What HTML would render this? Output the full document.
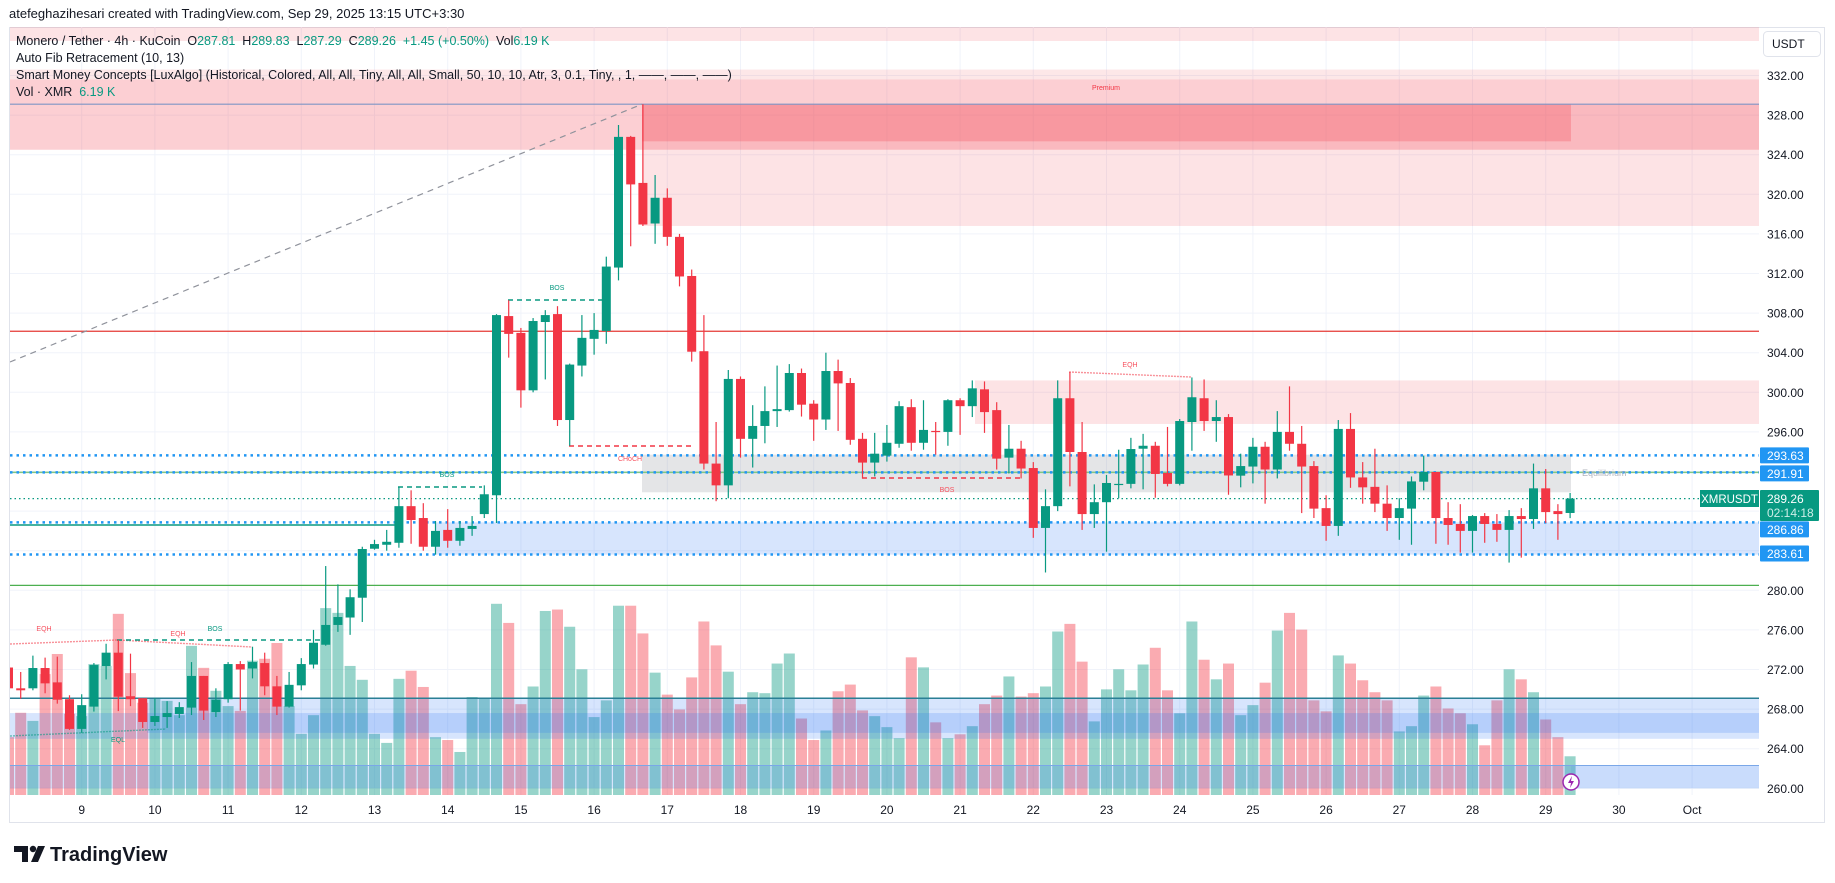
<!DOCTYPE html>
<html><head><meta charset="utf-8">
<style>
html,body{margin:0;padding:0;background:#fff;}
body{width:1835px;height:883px;overflow:hidden;position:relative;font-family:"Liberation Sans",sans-serif;color:#131722;}
#hdr{position:absolute;left:9px;top:6px;font-size:13px;color:#131722;}
.leg{position:absolute;left:16px;font-size:12.5px;color:#131722;white-space:nowrap;}
.v{color:#089981;}
#logo{position:absolute;left:12px;top:840px;}
</style></head><body>
<div id="hdr">atefeghazihesari created with TradingView.com, Sep 29, 2025 13:15 UTC+3:30</div>
<svg id="chart" width="1835" height="883" style="position:absolute;left:0;top:0"></svg>
<div class="leg" style="top:34px">Monero / Tether · 4h · KuCoin&nbsp; O<span class="v">287.81</span>&nbsp; H<span class="v">289.83</span>&nbsp; L<span class="v">287.29</span>&nbsp; C<span class="v">289.26</span>&nbsp; <span class="v">+1.45 (+0.50%)</span>&nbsp; Vol<span class="v">6.19 K</span></div>
<div class="leg" style="top:51px">Auto Fib Retracement (10, 13)</div>
<div class="leg" style="top:68px">Smart Money Concepts [LuxAlgo] (Historical, Colored, All, All, Tiny, All, All, Small, 50, 10, 10, Atr, 3, 0.1, Tiny, , 1, ——, ——, ——)</div>
<div class="leg" style="top:85px">Vol · XMR&nbsp; <span class="v">6.19 K</span></div>
<div id="logo">
<svg width="170" height="28"><path d="M2 6h14v16h-6V12H2z" fill="#131722"/><circle cx="21" cy="9" r="3.2" fill="#131722"/><path d="M26 6h7l-7 16h-7z" fill="#131722"/><text x="38" y="21" font-family="Liberation Sans, sans-serif" font-weight="bold" font-size="20" fill="#131722">TradingView</text></svg>
</div>
<script>
const openP=[272.2,270.1,270.1,272.15,270.7,269.0,266.0,268.25,272.35,273.7,269.3,269.1,266.7,267.2,267.5,268.15,271.35,267.7,269.0,272.55,272.1,272.65,270.3,268.25,270.4,272.5,274.5,276.5,277.25,279.25,284.2,284.6,284.8,288.5,287.3,284.4,286.1,285.0,286.2,287.7,289.6,307.7,306.0,300.2,307.1,307.9,297.2,302.7,305.4,306.2,312.6,325.8,321.15,317.05,319.65,315.7,311.75,304.15,292.8,290.6,301.35,295.3,296.6,298.1,298.2,301.95,298.85,297.25,302.15,300.94,295.3,292.9,293.6,294.8,298.5,294.9,296.1,296.0,299.2,298.6,300.3,298.2,293.4,294.3,292.35,286.3,288.5,299.4,293.97,287.7,288.9,290.7,290.75,294.3,294.6,291.85,290.75,297.0,299.4,297.1,297.5,291.58,292.5,294.5,292.2,296.0,294.8,292.55,288.3,286.5,296.3,291.4,290.45,288.75,287.3,288.25,290.97,291.95,287.3,286.7,286.0,287.5,286.7,286.1,287.5,287.2,290.3,288.0,287.81];
const highP=[272.5,271.75,273.4,273.2,273.3,269.4,269.5,272.65,274.6,275.0,273.6,269.1,269.1,268.8,268.7,272.75,271.35,270.1,272.75,272.85,274.3,273.7,271.35,271.75,273.15,276.0,282.45,280.6,280.1,284.4,285.1,286.1,290.4,290.1,288.8,287.0,288.2,287.0,287.5,290.6,307.9,309.3,306.5,307.5,308.3,308.7,302.9,307.8,308.0,313.7,327.0,325.9,329.1,321.95,320.6,316.0,312.4,307.8,297.0,302.25,301.6,298.7,300.6,302.7,302.85,302.4,299.2,304.0,303.3,301.44,295.9,295.9,296.7,299.1,299.3,299.2,297.0,299.3,299.4,301.2,301.1,299.0,296.7,295.1,292.95,290.2,301.2,302.05,297.0,290.7,291.65,294.2,295.4,295.8,295.0,296.5,297.3,301.5,301.3,299.2,297.8,293.8,295.4,295.0,298.1,300.6,296.6,293.05,289.6,297.2,297.9,292.95,294.3,290.6,289.3,291.5,293.6,291.95,288.9,288.7,287.6,287.8,287.7,288.1,288.3,292.8,292.25,288.7,289.83];
const lowP=[269.8,269.05,269.9,269.6,268.55,265.9,265.6,267.75,271.0,267.8,268.3,266.1,266.3,266.1,267.1,267.4,266.9,267.2,268.65,267.85,271.1,269.4,267.4,268.15,269.9,272.1,274.4,275.8,275.5,276.8,284.1,284.0,284.3,284.7,284.0,283.6,284.3,284.5,285.5,287.3,286.8,303.5,298.45,300.0,301.3,296.6,294.6,301.6,303.8,304.9,311.3,314.75,316.8,315.0,314.8,310.7,303.1,292.2,289.0,289.3,293.4,292.4,294.85,296.5,298.05,297.55,295.1,296.2,296.1,294.7,291.3,291.5,293.0,294.4,294.1,294.2,293.7,294.6,295.7,297.5,295.9,292.2,291.8,291.3,285.3,281.8,288.0,290.5,286.1,286.3,283.9,289.3,290.3,290.2,289.35,290.5,290.6,294.1,296.1,295.0,289.65,290.4,290.8,288.75,291.3,294.1,287.8,287.3,285.0,285.5,290.35,288.75,287.9,286.0,285.1,284.6,290.1,284.7,284.6,283.8,283.8,284.8,284.9,282.8,283.3,286.2,286.8,285.1,287.29];
const closeP=[270.1,269.9,272.15,270.6,268.95,266.0,268.4,272.45,273.7,269.25,269.0,266.7,267.3,267.6,268.2,271.35,267.85,268.95,272.55,272.0,272.75,270.3,268.25,270.45,272.55,274.7,276.5,277.3,279.3,284.17,284.67,284.9,288.5,287.1,284.4,286.0,285.0,286.3,286.5,289.7,307.8,305.9,300.2,307.2,307.8,297.2,302.8,305.5,306.3,312.7,325.8,321.0,316.95,319.65,315.7,311.7,304.1,292.8,290.6,301.35,295.3,296.6,298.1,298.3,301.95,298.75,297.25,302.15,300.9,295.2,292.9,293.8,294.9,298.6,294.9,296.2,296.0,299.2,298.6,300.4,298.0,293.3,294.3,292.3,286.3,288.5,299.4,293.97,287.7,288.9,290.84,290.75,294.27,294.6,291.75,290.75,297.1,299.5,297.1,297.5,291.6,292.55,294.5,292.2,296.0,294.8,292.5,288.25,286.5,296.3,291.4,290.4,288.75,287.3,288.3,291.0,291.95,287.3,286.6,286.0,287.5,286.7,286.1,287.5,287.2,290.3,287.9,287.7,289.26];
const volumeK=[12.1,17.2,15.5,25.3,29.5,17.0,16.5,27.4,27.0,37.9,25.5,19.3,20.1,19.7,16.7,31.2,26.6,21.8,18.6,17.6,28.1,28.5,31.8,18.6,12.8,16.7,39.1,38.1,27.0,24.1,12.8,10.9,24.3,26.0,22.6,12.1,11.5,9.0,20.5,20.3,40.0,36.0,19.0,22.7,38.5,38.8,35.2,26.3,16.3,19.8,39.6,39.6,33.8,25.6,21.0,17.9,24.6,36.3,31.3,25.8,19.0,21.5,21.3,27.5,29.6,16.0,11.5,13.5,21.7,23.1,17.7,16.5,14.2,11.9,28.8,26.7,15.2,11.9,12.7,14.4,19.0,20.8,24.8,20.6,21.3,22.7,34.2,35.8,27.9,15.4,22.1,26.3,21.9,27.3,30.8,21.9,17.1,36.3,28.3,24.2,27.5,16.7,18.8,23.5,34.4,38.1,34.6,19.8,17.5,29.2,27.5,24.0,21.5,19.8,13.3,14.4,20.8,22.7,18.1,17.1,14.8,10.4,19.8,26.3,24.2,21.5,15.8,12.1,8.1];
const priceTicks=[332,328,324,320,316,312,308,304,300,296,280,276,272,268,264,260];
const gridPrices=[332,328,324,320,316,312,308,304,300,296,292,288,284,280,276,272,268,264,260];
const dayLabels=["9","10","11","12","13","14","15","16","17","18","19","20","21","22","23","24","25","26","27","28","29","30","Oct"];
const levelPrices=[293.63,291.91,286.86,283.61];
const lastPrice=289.26;

const NS="http://www.w3.org/2000/svg";
const svg=document.getElementById('chart');
const L=10,R=1759,T=27,B=795;
function yP(p){return 75.5+(332-p)*9.9;}
function xI(i){return 8.5+12.2*i;}
function yV(v){return B-v*4.78;}
function mk(tag,attrs,parent){const e=document.createElementNS(NS,tag);for(const k in attrs)e.setAttribute(k,attrs[k]);(parent||svg).appendChild(e);return e;}

let e=mk('rect',{x:9.5,y:27.5,width:1815,height:795,fill:'none',stroke:'#e0e3eb'});


const defs=mk('defs',{});
const cp=mk('clipPath',{id:'pc'},defs);mk('rect',{x:L,y:T,width:R-L,height:B-T},cp);
const g=mk('g',{'clip-path':'url(#pc)'});



gridPrices.forEach(p=>{const l=mk('line',{x1:L,x2:R,y1:yP(p),y2:yP(p),stroke:'#f0f3fa','stroke-width':1},g);

});
dayLabels.forEach((d,k)=>{const x=xI(6+k*6);const l=mk('line',{x1:x,x2:x,y1:T,y2:B,stroke:'#f0f3fa','stroke-width':1},g);

});

volumeK.forEach((v,i)=>{const up=closeP[i]>=openP[i];
const r=mk('rect',{x:xI(i)-5.5,y:yV(v),width:11,height:B-yV(v),fill:up?'rgba(8,153,129,0.42)':'rgba(242,54,69,0.42)'},g);

});

function box(x1,p1,x2,p2,fill,name){const r=mk('rect',{x:x1,y:Math.min(yP(p1),yP(p2)),width:x2-x1,height:Math.abs(yP(p1)-yP(p2)),fill:fill},g);

return r;}
mk('rect',{x:L,y:27,width:R-L,height:14,fill:'rgba(242,54,69,0.14)'},g);
box(L,332.6,R,331.6,'rgba(242,54,69,0.12)','premium-edge');
box(L,331.6,R,324.5,'rgba(242,54,69,0.24)','premium-zone');
box(642,329.1,R,316.8,'rgba(242,54,69,0.14)','bearish-order-block');
box(642,329.1,1571,325.35,'rgba(242,54,69,0.25)','bearish-order-block-inner');
box(975,301.2,R,296.8,'rgba(242,54,69,0.14)','supply-zone');
box(642,293.7,1571,289.9,'rgba(120,123,134,0.20)','equilibrium-zone');
box(435,286.86,R,283.61,'rgba(33,110,243,0.18)','bullish-order-block');
box(147,269.1,R,265.6,'rgba(33,110,243,0.18)','discount-zone');
box(L,267.6,R,265.0,'rgba(33,110,243,0.18)','discount-zone-inner');
box(L,262.3,R,260.0,'rgba(33,110,243,0.18)','discount-zone-bottom');
box(1571,262.3,R,260.0,'rgba(33,110,243,0.08)','discount-box-right');

function hline(p,x1,x2,color,w,dash,name){const l=mk('line',{x1:x1,x2:x2,y1:yP(p),y2:yP(p),stroke:color,'stroke-width':w},g);
if(dash)l.setAttribute('stroke-dasharray',dash);

return l;}
hline(329.1,L,R,'#7f95c5',1.2,null,'fib-top-line');
hline(306.17,L,R,'#e53935',1.2,null,'fib-mid-line');
hline(280.5,L,R,'#4caf50',1.2,null,'fib-bottom-line');
hline(291.91,L,R,'#81c784',1.5,null,'equilibrium-line');
hline(286.6,L,396,'#089981',1.5,null,'support-line');
hline(269.1,L,R,'#2a7f95',1.5,null,'discount-top-line');
hline(262.3,L,R,'#7aa7e8',1,null,'discount-bottom-line');
levelPrices.forEach(p=>{hline(p,L,R,'#2196f3',2.5,'2.5 4','level-line');});
hline(lastPrice,L,R,'#089981',1.3,'1.5 3','last-price-line');
e=mk('line',{x1:L,y1:362,x2:642,y2:yP(329.1),stroke:'#8f929b','stroke-width':1.2,'stroke-dasharray':'6 5'},g);



function seg(x1,y1,x2,y2,color,dash,name){const l=mk('line',{x1:x1,y1:y1,x2:x2,y2:y2,stroke:color,'stroke-width':1.4,'stroke-dasharray':dash},g);

}
function lab(x,y,t,color,name){const s=mk('text',{x:x,y:y,fill:color,'font-size':7,'text-anchor':'middle','font-family':'Liberation Sans, sans-serif'},g);s.textContent=t;

}
seg(10,644,117,640,'rgba(242,54,69,0.55)','2 1','eqh-line');
seg(117,640,252,647,'rgba(242,54,69,0.55)','2 1','eqh-line-2');
seg(117,640,320,640,'#089981','5 4','bos-line');
seg(10,736,166,729,'rgba(8,153,129,0.55)','2 1','eql-line');
seg(398,487,482,487,'#089981','5 4','bos-line-2');
seg(508,300,602,300,'#089981','5 4','bos-line-3');
seg(569,446,695,446,'#f23645','5 4','choch-line');
seg(862,478,1022,478,'#f23645','5 4','bos-line-4');
seg(1069,372,1191,377,'rgba(242,54,69,0.55)','2 1','eqh-line-3');
lab(44,631,'EQH','#f7525f','eqh-label');
lab(178,636,'EQH','#f7525f','eqh-label-2');
lab(215,631,'BOS','#089981','bos-label');
lab(118,742,'EQL','#089981','eql-label');
lab(447,477,'BOS','#089981','bos-label-2');
lab(557,290,'BOS','#089981','bos-label-3');
lab(630,461,'CHoCH','#f7525f','choch-label');
lab(947,492,'BOS','#f7525f','bos-label-4');
lab(1130,367,'EQH','#f7525f','eqh-label-3');
lab(1106,90,'Premium','#f23645','premium-label');
e=mk('text',{x:1582,y:476,fill:'#b2b5be','font-size':9,'font-family':'Liberation Sans, sans-serif'},g);e.textContent='Equilibrium';



openP.forEach((o,i)=>{const c=closeP[i];const up=c>=o;const col=up?'#089981':'#f23645';const x=xI(i);
const w=mk('line',{x1:x,x2:x,y1:yP(highP[i]),y2:yP(lowP[i]),stroke:col,'stroke-width':1.2},g);


const t=yP(Math.max(o,c)),b=yP(Math.min(o,c));
const r=mk('rect',{x:x-4.5,y:t,width:9,height:Math.max(1.2,b-t),fill:col},g);

});

e=mk('circle',{cx:1571,cy:782,r:8,fill:'#fff',stroke:'#9c27b0','stroke-width':1.5});


mk('path',{d:'M1572 776l-4 7h3l-1 5 4-7h-3z',fill:'#9c27b0'});

priceTicks.forEach(p=>{const s=mk('text',{x:1767,y:yP(p)+4.5,fill:'#131722','font-size':12,'font-family':'Liberation Sans, sans-serif'});s.textContent=p.toFixed(2);

});
dayLabels.forEach((d,k)=>{const s=mk('text',{x:xI(6+k*6),y:814,fill:'#131722','font-size':12,'text-anchor':'middle','font-family':'Liberation Sans, sans-serif'});s.textContent=d;

});
e=mk('rect',{x:1763.5,y:31.5,width:57,height:25,rx:4,fill:'#fff',stroke:'#e0e3eb'});


e=mk('text',{x:1772,y:48,fill:'#131722','font-size':12,'font-family':'Liberation Sans, sans-serif'});e.textContent='USDT';


levelPrices.forEach(p=>{const y=yP(p);let yy=y;if(p===286.86)yy=y+7;if(p===283.61)yy=y-1;if(p===291.91)yy=y+1;
const r=mk('rect',{x:1760,y:yy-8,width:49,height:16,rx:1,fill:'#2196f3'});


const s=mk('text',{x:1767,y:yy+4.5,fill:'#fff','font-size':12,'font-family':'Liberation Sans, sans-serif'});s.textContent=p.toFixed(2);

});
e=mk('rect',{x:1760,y:490,width:59,height:31,rx:1,fill:'#089981'});


e=mk('text',{x:1767,y:503,fill:'#fff','font-size':12,'font-family':'Liberation Sans, sans-serif'});e.textContent=lastPrice.toFixed(2);


e=mk('text',{x:1767,y:517,fill:'#cdeee8','font-size':12,'font-family':'Liberation Sans, sans-serif'});e.textContent='02:14:18';


e=mk('rect',{x:1700,y:490,width:59,height:17,fill:'#089981'});


e=mk('text',{x:1729.5,y:503,fill:'#fff','font-size':11.5,'text-anchor':'middle','font-family':'Liberation Sans, sans-serif'});e.textContent='XMRUSDT';


</script>
</body></html>
